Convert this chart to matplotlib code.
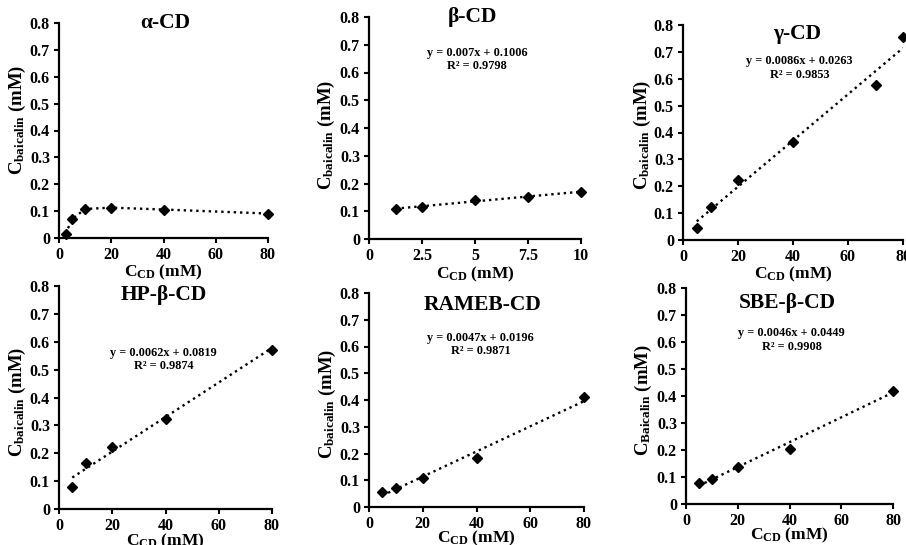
import numpy as np
import matplotlib
matplotlib.use("Agg")
import matplotlib.pyplot as plt

plt.rcParams["font.family"] = ["Liberation Serif", "DejaVu Serif"]
plt.rcParams["font.weight"] = "bold"
plt.rcParams["axes.labelweight"] = "bold"
plt.rcParams["mathtext.fontset"] = "custom"
plt.rcParams["mathtext.rm"] = "Liberation Serif:bold"
plt.rcParams["mathtext.it"] = "Liberation Serif:bold"
plt.rcParams["mathtext.bf"] = "Liberation Serif:bold"

# dane
names = ["α-CD", "β-CD", "γ-CD", "HP-β-CD", "RAMEB-CD", "SBE-β-CD"]

x_alpha = [2.5, 5, 10, 20, 40, 80]
y_alpha = [0.015, 0.07, 0.108, 0.113, 0.106, 0.091]

x_beta = [1.25, 2.5, 5, 7.5, 10]
y_beta = [0.108, 0.115, 0.14, 0.153, 0.168]

x_gamma = [5, 10, 20, 40, 70, 80]
y_gamma = [0.045, 0.122, 0.225, 0.365, 0.577, 0.755]

x_hp = [5, 10, 20, 40, 80]
y_hp = [0.08, 0.165, 0.222, 0.323, 0.572]

x_rameb = [5, 10, 20, 40, 80]
y_rameb = [0.055, 0.07, 0.11, 0.182, 0.41]

x_sbe = [5, 10, 20, 40, 80]
y_sbe = [0.078, 0.092, 0.137, 0.205, 0.42]

# równania linii trendu (nachylenie, wyraz wolny, R²)
slopes = [None, 0.007, 0.0086, 0.0062, 0.0047, 0.0046]
intercepts = [None, 0.1006, 0.0263, 0.0819, 0.0196, 0.0449]
r2_values = [None, 0.9798, 0.9853, 0.9874, 0.9871, 0.9908]
eq_texts = [None, "y = 0.007x + 0.1006", "y = 0.0086x + 0.0263",
            "y = 0.0062x + 0.0819", "y = 0.0047x + 0.0196",
            "y = 0.0046x + 0.0449"]

xs = [x_alpha, x_beta, x_gamma, x_hp, x_rameb, x_sbe]
ys = [y_alpha, y_beta, y_gamma, y_hp, y_rameb, y_sbe]

x_ticks_80 = [0, 20, 40, 60, 80]
x_ticks_10 = [0, 2.5, 5, 7.5, 10]
y_ticks = [0, 0.1, 0.2, 0.3, 0.4, 0.5, 0.6, 0.7, 0.8]
y_tick_labels = ["0", "0.1", "0.2", "0.3", "0.4", "0.5", "0.6", "0.7", "0.8"]

W, H = 906, 545
fig = plt.figure(figsize=(W / 100, H / 100), dpi=100)

# pozycje paneli w pikselach: lewo, prawo, góra, dół
boxes = [(59, 268, 23, 238), (369, 581, 17, 239), (683, 903, 25, 240),
         (59, 272, 286, 509), (369, 584, 293, 507), (686, 893, 288, 504)]
title_pos = [(0.51, 1.0), (0.49, 1.0), (0.52, 0.96),
             (0.49, 0.96), (0.53, 0.945), (0.49, 0.93)]
eq_pos = [None, (0.51, 0.81), (0.53, 0.80), (0.49, 0.67), (0.52, 0.76), (0.51, 0.76)]
ylab_pos = [(-0.2, 0.55), (-0.2, 0.47), (-0.185, 0.49),
            (-0.195, 0.48), (-0.195, 0.48), (-0.205, 0.48)]

for i in range(6):
    l, r, t, b = boxes[i]
    ax = fig.add_axes([l / W, 1 - b / H, (r - l) / W, (b - t) / H])
    ax.set_facecolor("none")

    if i == 0:
        ax.plot(xs[i], ys[i], ":", color="black", lw=1.7, marker="D",
                ms=5.5, clip_on=False)
    else:
        xl = np.array([min(xs[i]), max(xs[i])])
        ax.plot(xl, slopes[i] * xl + intercepts[i], ":", color="black", lw=1.7)
        ax.plot(xs[i], ys[i], "D", color="black", ms=5.5, clip_on=False, zorder=3)
        ax.text(eq_pos[i][0], eq_pos[i][1],
                eq_texts[i] + "\nR² = " + f"{r2_values[i]:.4f}",
                transform=ax.transAxes, ha="center", va="center",
                fontsize=8.8, fontweight="bold", linespacing=1.15)

    ax.text(title_pos[i][0], title_pos[i][1], names[i], transform=ax.transAxes,
            ha="center", va="center", fontsize=15.5, fontweight="bold")

    if i == 1:
        ax.set_xlim(0, 10)
        ax.set_xticks(x_ticks_10)
        ax.set_xticklabels(["0", "2.5", "5", "7.5", "10"])
    else:
        ax.set_xlim(0, 80)
        ax.set_xticks(x_ticks_80)
    ax.set_ylim(0, 0.8)
    ax.set_yticks(y_ticks)
    ax.set_yticklabels(y_tick_labels)

    for s in ["top", "right"]:
        ax.spines[s].set_visible(False)
    for s in ["left", "bottom"]:
        ax.spines[s].set_linewidth(1.6)
    ax.tick_params(direction="out", length=3.5, width=1.5, labelsize=11.5, pad=3)
    for lab in ax.get_xticklabels() + ax.get_yticklabels():
        lab.set_fontweight("bold")

    sub = "Baicalin" if i == 5 else "baicalin"
    ax.set_ylabel("C$_{\\mathrm{" + sub + "}}$ (mM)", fontsize=13.5,
                  fontweight="bold", va="center")
    ax.yaxis.set_label_coords(*ylab_pos[i])
    ax.set_xlabel("C$_{\\mathrm{CD}}$ (mM)", fontsize=12.5, fontweight="bold")
    if i < 3:
        ax.xaxis.set_label_coords(0.5, -0.115)
    else:
        ax.xaxis.set_label_coords(0.5, -0.1)

fig.savefig("out.png", dpi=100)
